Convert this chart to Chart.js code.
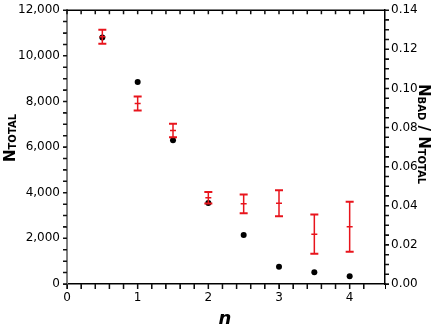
<!DOCTYPE html>
<html>
<head>
<meta charset="utf-8">
<script src="https://cdn.jsdelivr.net/npm/chart.js@4/dist/chart.umd.min.js"></script>
<style>
	html, body { margin: 0; padding: 0; background: #fff; }
	#wrap { width: 436px; height: 327px; position: relative; }
</style>
</head>
<body>
<div id="wrap"><canvas id="graph"></canvas></div>
<script>
const nValues = [0.5, 1, 1.5, 2, 2.5, 3, 3.5, 4];
const nTotal = [10800, 8850, 6300, 3550, 2150, 760, 510, 340];
const badFrac = [0.1264, 0.0923, 0.0785, 0.0441, 0.0410, 0.0413, 0.0255, 0.0293];
const badErr = [0.0036, 0.0036, 0.0034, 0.0029, 0.0048, 0.0067, 0.0100, 0.0128];

const tickFont = { family: "DejaVu Sans", size: 12 };
const isMajor = (v, step) => Math.abs(v / step - Math.round(v / step)) < 1e-6;

// error bars, tick marks, top border and axis titles
const extras = {
	id: "extras",
	afterDraw(chart) {
		const ctx = chart.ctx;
		const x = chart.scales.x;
		const y = chart.scales.y;
		const y1 = chart.scales.y1;
		const area = chart.chartArea;
		ctx.save();
		ctx.strokeStyle = "#e8141c";
		nValues.forEach((n, i) => {
			const px = x.getPixelForValue(n);
			const pc = y1.getPixelForValue(badFrac[i]);
			const pt = y1.getPixelForValue(badFrac[i] + badErr[i]);
			const pb = y1.getPixelForValue(badFrac[i] - badErr[i]);
			ctx.lineWidth = 1.5;
			ctx.beginPath();
			ctx.moveTo(px, pt);
			ctx.lineTo(px, pb);
			ctx.moveTo(px - 3, pc);
			ctx.lineTo(px + 3, pc);
			ctx.stroke();
			ctx.lineWidth = 2;
			ctx.beginPath();
			ctx.moveTo(px - 4, pt);
			ctx.lineTo(px + 4, pt);
			ctx.moveTo(px - 4, pb);
			ctx.lineTo(px + 4, pb);
			ctx.stroke();
		});

		// top border
		ctx.strokeStyle = "#000";
		ctx.lineWidth = 1.5;
		ctx.beginPath();
		ctx.moveTo(area.left, area.top);
		ctx.lineTo(area.right, area.top);
		ctx.stroke();

		// tick marks
		ctx.lineWidth = 1.5;
		ctx.strokeStyle = "#111";
		ctx.beginPath();
		x.ticks.forEach((t) => {
			const px = x.getPixelForValue(t.value);
			if (px > area.right - 1) return;
			ctx.moveTo(px, area.top);
			ctx.lineTo(px, area.top + 4);
			ctx.moveTo(px, area.bottom);
			ctx.lineTo(px, area.bottom + 5);
		});
		y.ticks.forEach((t) => {
			const py = y.getPixelForValue(t.value);
			ctx.moveTo(area.left, py);
			ctx.lineTo(area.left - 4, py);
		});
		y1.ticks.forEach((t) => {
			const py = y1.getPixelForValue(t.value);
			ctx.moveTo(area.right, py);
			ctx.lineTo(area.right + 4, py);
		});
		ctx.stroke();

		// titles
		ctx.fillStyle = "#000";
		ctx.textBaseline = "alphabetic";

		ctx.save();
		ctx.translate(15, 162);
		ctx.rotate(-Math.PI / 2);
		ctx.font = "bold 15px 'DejaVu Sans'";
		ctx.fillText("N", 0, 0);
		let w = ctx.measureText("N").width;
		ctx.font = "bold 10px 'DejaVu Sans'";
		ctx.fillText("TOTAL", w, 1);
		ctx.restore();

		ctx.save();
		ctx.translate(419, 84);
		ctx.rotate(Math.PI / 2);
		ctx.font = "bold 15px 'DejaVu Sans'";
		ctx.fillText("N", 0, 0);
		w = ctx.measureText("N").width;
		ctx.font = "bold 10px 'DejaVu Sans'";
		ctx.fillText("BAD", w, 1);
		w += ctx.measureText("BAD").width;
		ctx.font = "bold 15px 'DejaVu Sans'";
		ctx.fillText(" / ", w, 0);
		w += ctx.measureText(" / ").width;
		ctx.fillText("N", w, 0);
		w += ctx.measureText("N").width;
		ctx.font = "bold 10px 'DejaVu Sans'";
		ctx.fillText("TOTAL", w, 1);
		ctx.restore();

		ctx.font = "italic bold 18px 'DejaVu Sans'";
		ctx.textAlign = "center";
		ctx.fillText("n", 225, 324);
		ctx.restore();
	},
};

new Chart(document.getElementById("graph"), {
	type: "scatter",
	data: {
		datasets: [
			{
				label: "N total",
				data: nValues.map((n, i) => ({ x: n, y: nTotal[i] })),
				yAxisID: "y",
				backgroundColor: "#000",
				borderWidth: 0,
				pointRadius: 3,
			},
			{
				label: "N bad / N total",
				data: nValues.map((n, i) => ({ x: n, y: badFrac[i] })),
				yAxisID: "y1",
				pointRadius: 0,
			},
		],
	},
	options: {
		responsive: true,
		maintainAspectRatio: false,
		animation: false,
		layout: { padding: { top: 10, left: 0, right: 0, bottom: 0 } },
		plugins: { legend: { display: false }, tooltip: { enabled: false } },
		scales: {
			x: {
				type: "linear",
				min: 0,
				max: 4.5,
				grid: { drawOnChartArea: false, tickLength: 5, color: "#000" },
				border: { color: "#000", width: 1.5 },
				ticks: {
					stepSize: 0.2,
					maxTicksLimit: 1000,
					autoSkip: false,
					maxRotation: 0,
					padding: 2,
					color: "#000",
					font: tickFont,
					callback: (v) => (isMajor(v, 1) ? String(Math.round(v)) : ""),
				},
				afterFit: (s) => { s.height = 43; },
			},
			y: {
				position: "left",
				min: 0,
				max: 12000,
				grid: { drawOnChartArea: false, tickLength: 4, color: "#222" },
				border: { color: "#808080", width: 2 },
				ticks: {
					stepSize: 500,
					maxTicksLimit: 1000,
					autoSkip: false,
					padding: 3,
					color: "#000",
					font: tickFont,
					callback: (v) => (isMajor(v, 2000) ? v.toLocaleString("en-US") : ""),
				},
				afterFit: (s) => { s.width = 67; },
			},
			y1: {
				position: "right",
				min: 0,
				max: 0.14,
				grid: { drawOnChartArea: false, tickLength: 4, color: "#000" },
				border: { color: "#000", width: 1.5 },
				ticks: {
					stepSize: 0.005,
					maxTicksLimit: 1000,
					autoSkip: false,
					padding: 2,
					color: "#000",
					font: tickFont,
					callback: (v) => (isMajor(v, 0.02) ? v.toFixed(2) : ""),
				},
				afterFit: (s) => { s.width = 51; },
			},
		},
	},
	plugins: [extras],
});
</script>
</body>
</html>
